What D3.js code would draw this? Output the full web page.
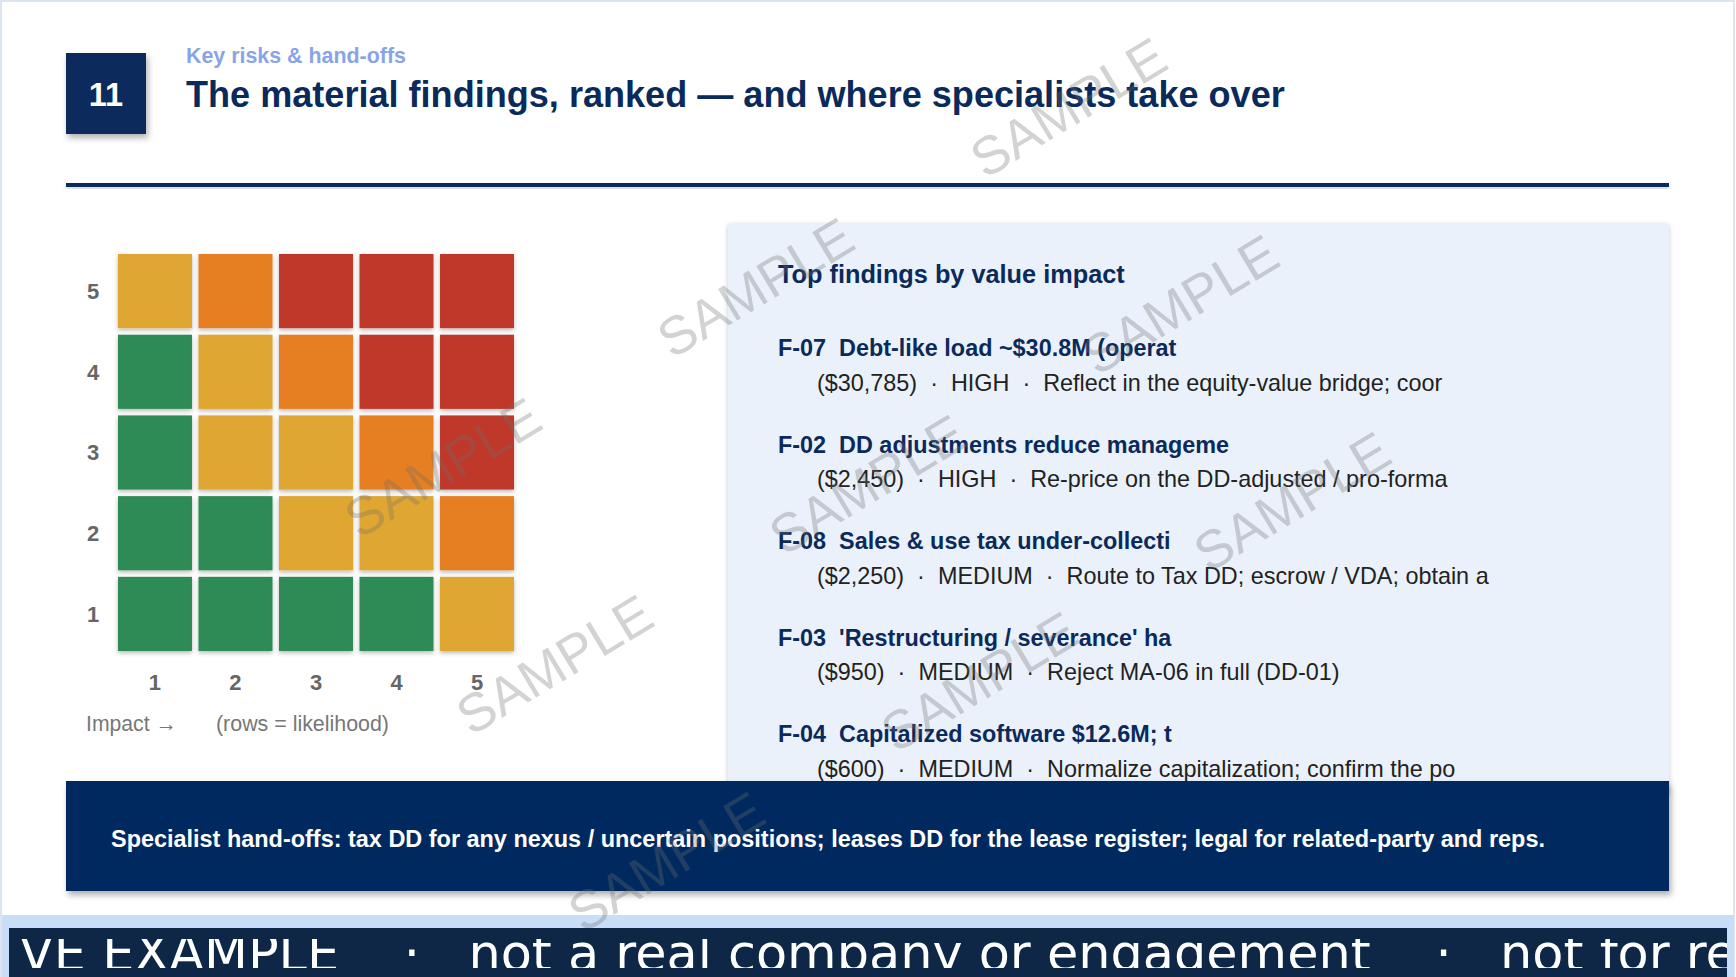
<!DOCTYPE html>
<html><head><meta charset="utf-8">
<script src="https://cdn.jsdelivr.net/npm/d3@7"></script>
<style>
html,body{margin:0;padding:0;background:#fff;}
svg{display:block;}
text{font-family:"Liberation Sans", Arial, Helvetica, sans-serif;}
text.foot{font-family:"DejaVu Sans", sans-serif;}
</style></head><body>
<svg id="c" width="1736" height="977"></svg>
<script>
// ---------------- data ----------------
const slideNumber = "11";
const kicker = "Key risks & hand-offs";
const title = "The material findings, ranked \u2014 and where specialists take over";
const impactLevels = [1, 2, 3, 4, 5];          // columns
const likelihoodLevels = [5, 4, 3, 2, 1];      // rows, top to bottom
const ratingRows = [                            // top row first
  ["amber", "orange", "red", "red", "red"],
  ["green", "amber", "orange", "red", "red"],
  ["green", "amber", "amber", "orange", "red"],
  ["green", "green", "amber", "amber", "orange"],
  ["green", "green", "green", "green", "amber"]
];
const ratingNames = ["green", "amber", "orange", "red"];
const ratingColors = ["#2e8b57", "#e0a630", "#e67e22", "#c0392b"];
const axisNoteX = "Impact \u2192";
const axisNoteY = "(rows = likelihood)";
const panelHeading = "Top findings by value impact";
const findingIds = ["F-07", "F-02", "F-08", "F-03", "F-04"];
const findingTitles = ["Debt-like load ~$30.8M (operat", "DD adjustments reduce manageme", "Sales & use tax under-collecti", "'Restructuring / severance' ha", "Capitalized software $12.6M; t"];
const findingImpacts = ["($30,785)", "($2,450)", "($2,250)", "($950)", "($600)"];
const findingSeverity = ["HIGH", "HIGH", "MEDIUM", "MEDIUM", "MEDIUM"];
const findingActions = ["Reflect in the equity-value bridge; coor", "Re-price on the DD-adjusted / pro-forma", "Route to Tax DD; escrow / VDA; obtain a", "Reject MA-06 in full (DD-01)", "Normalize capitalization; confirm the po"];
const handoffNote = "Specialist hand-offs: tax DD for any nexus / uncertain positions; leases DD for the lease register; legal for related-party and reps.";
const footerText = "ILLUSTRATIVE EXAMPLE    \u00b7   not a real company or engagement    \u00b7   not for reliance";
const watermarkText = "SAMPLE";

// ---------------- drawing ----------------
const NAVY = "#0b2a5c";
const svg = d3.select("#c");
const defs = svg.append("defs");
function shadow(id, dx, dy, sd, op) {
  defs.append("filter").attr("id", id).attr("x", "-20%").attr("y", "-20%").attr("width", "140%").attr("height", "160%")
    .append("feDropShadow").attr("dx", dx).attr("dy", dy).attr("stdDeviation", sd)
    .attr("flood-color", "#000").attr("flood-opacity", op);
}
shadow("shBox", 2, 4, 3, 0.30);
shadow("shRule", 0, 3, 2.5, 0.22);
shadow("shCell", 0, 2, 2, 0.28);
shadow("shPanel", 0, 1, 2.5, 0.22);
shadow("shBanner", 2, 4, 3, 0.32);

svg.append("rect").attr("width", 1736).attr("height", 977).attr("fill", "#fff");
svg.append("rect").attr("x", 1).attr("y", 1).attr("width", 1733).attr("height", 975)
  .attr("fill", "none").attr("stroke", "#dbe4ef").attr("stroke-width", 2);

// header
svg.append("rect").attr("x", 66).attr("y", 53).attr("width", 80).attr("height", 81)
  .attr("fill", NAVY).attr("filter", "url(#shBox)");
svg.append("text").attr("x", 106).attr("y", 106).attr("text-anchor", "middle")
  .attr("font-size", 32.5).attr("font-weight", 700).attr("fill", "#fff").text(slideNumber);
svg.append("text").attr("x", 186).attr("y", 63).attr("font-size", 21.4).attr("font-weight", 700)
  .attr("fill", "#88a4e8").text(kicker);
svg.append("text").attr("x", 186).attr("y", 107).attr("font-size", 36.1).attr("font-weight", 700)
  .attr("fill", NAVY).text(title);
svg.append("rect").attr("x", 66).attr("y", 183).attr("width", 1603).attr("height", 4)
  .attr("fill", NAVY).attr("filter", "url(#shRule)");

// heat map
const x = d3.scaleBand().domain(impactLevels).range([118, 514]).paddingInner(0.081);
const y = d3.scaleBand().domain(likelihoodLevels).range([254, 651]).paddingInner(0.081);
const color = d3.scaleOrdinal().domain(ratingNames).range(ratingColors);
const cells = [];
likelihoodLevels.forEach((l, r) => impactLevels.forEach((im, c) => cells.push({l, im, rating: ratingRows[r][c]})));
svg.append("g").selectAll("rect").data(cells).join("rect")
  .attr("x", d => x(d.im)).attr("y", d => y(d.l))
  .attr("width", x.bandwidth()).attr("height", y.bandwidth())
  .attr("fill", d => color(d.rating)).attr("filter", "url(#shCell)");

const gy = svg.append("g").attr("transform", "translate(93,0)")
  .call(d3.axisLeft(y).tickSize(0).tickPadding(0));
gy.select(".domain").remove();
gy.selectAll("text").attr("text-anchor", "middle").attr("x", 0).attr("dy", "0.36em")
  .attr("font-size", 22).attr("font-weight", 700).attr("fill", "#666");
const gx = svg.append("g").attr("transform", "translate(0,674)")
  .call(d3.axisBottom(x).tickSize(0).tickPadding(0));
gx.select(".domain").remove();
gx.selectAll("text").attr("y", 0).attr("dy", "0.72em")
  .attr("font-size", 22).attr("font-weight", 700).attr("fill", "#666");
svg.append("text").attr("x", 86).attr("y", 731).attr("font-size", 21.2).attr("fill", "#777").text(axisNoteX);
svg.append("text").attr("x", 216).attr("y", 731).attr("font-size", 21.4).attr("fill", "#777").text(axisNoteY);

// findings panel
svg.append("rect").attr("x", 728).attr("y", 224).attr("width", 941).attr("height", 570)
  .attr("fill", "#eaf1fb").attr("filter", "url(#shPanel)");
svg.append("text").attr("x", 778).attr("y", 283).attr("font-size", 25.3).attr("font-weight", 700)
  .attr("fill", NAVY).text(panelHeading);
const fy = d3.scalePoint().domain(findingIds).range([356, 742]);
const items = svg.append("g").selectAll("g").data(findingIds).join("g")
  .attr("transform", d => `translate(0,${fy(d)})`);
items.append("text").attr("x", 778).attr("y", 0).attr("font-size", 23.4).attr("font-weight", 700)
  .attr("fill", NAVY).style("white-space", "pre")
  .text((d, i) => `${d}  ${findingTitles[i]}`);
items.append("text").attr("x", 817).attr("y", 34.5).attr("font-size", 23.4)
  .attr("fill", "#222").style("white-space", "pre")
  .text((d, i) => `${findingImpacts[i]}  \u00b7  ${findingSeverity[i]}  \u00b7  ${findingActions[i]}`);

// hand-off banner
svg.append("rect").attr("x", 66).attr("y", 781).attr("width", 1603).attr("height", 110)
  .attr("fill", "#022a5e").attr("filter", "url(#shBanner)");
svg.append("text").attr("x", 111).attr("y", 847).attr("font-size", 23.45).attr("font-weight", 700)
  .attr("fill", "#fff").text(handoffNote);

// footer strip
svg.append("rect").attr("x", 2).attr("y", 915).attr("width", 1732).attr("height", 62).attr("fill", "#c8ddf6");
svg.append("rect").attr("x", 9).attr("y", 928).attr("width", 1718).attr("height", 49).attr("fill", "#0e2747");
defs.append("clipPath").attr("id", "footClip").append("rect")
  .attr("x", 16).attr("y", 939).attr("width", 1711).attr("height", 29);
const ft = svg.append("text").attr("class", "foot").attr("clip-path", "url(#footClip)")
  .attr("y", 971).attr("font-size", 50.9).attr("fill", "#fff")
  .style("white-space", "pre").text(footerText);
const lead = ft.node().getSubStringLength(0, 10);
ft.attr("x", 19 - lead);

// watermarks: 3 x 3 lattice rotated -30deg
const wmOrigin = [1068, 107], wmA = [-312.8, 180], wmB = [111.8, 197];
const wm = [];
for (let i = 0; i < 3; i++) for (let j = 0; j < 3; j++)
  wm.push([wmOrigin[0] + i * wmA[0] + j * wmB[0], wmOrigin[1] + i * wmA[1] + j * wmB[1]]);
svg.append("g").selectAll("text").data(wm).join("text")
  .attr("transform", d => `translate(${d[0]},${d[1]}) rotate(-31)`)
  .attr("text-anchor", "middle").attr("dy", "0.36em")
  .attr("font-size", 53.5).attr("fill", "rgb(110,110,110)").attr("fill-opacity", 0.3)
  .text(watermarkText);
</script>
</body></html>
